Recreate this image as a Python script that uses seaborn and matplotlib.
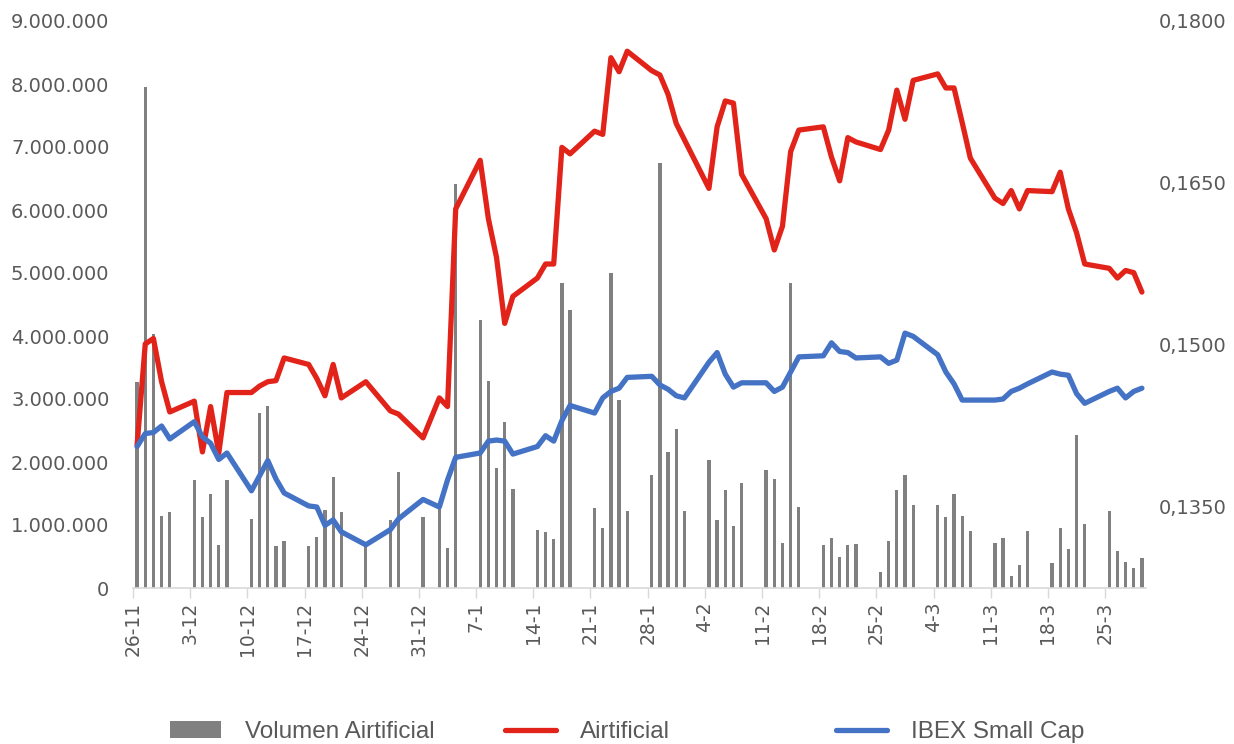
import pandas as pd
import numpy as np
import matplotlib
matplotlib.use("Agg")
import matplotlib.pyplot as plt
import seaborn as sns
from matplotlib.patches import Patch
from matplotlib.lines import Line2D
from matplotlib.ticker import FuncFormatter

# Sesiones (dias habiles) entre 26-11-2018 y 29-03-2019
fechas = [
    "2018-11-26", "2018-11-27", "2018-11-28", "2018-11-29", "2018-11-30",
    "2018-12-03", "2018-12-04", "2018-12-05", "2018-12-06", "2018-12-07",
    "2018-12-10", "2018-12-11", "2018-12-12", "2018-12-13", "2018-12-14",
    "2018-12-17", "2018-12-18", "2018-12-19", "2018-12-20", "2018-12-21",
    "2018-12-24", "2018-12-27", "2018-12-28",
    "2018-12-31", "2019-01-02", "2019-01-03", "2019-01-04",
    "2019-01-07", "2019-01-08", "2019-01-09", "2019-01-10", "2019-01-11",
    "2019-01-14", "2019-01-15", "2019-01-16", "2019-01-17", "2019-01-18",
    "2019-01-21", "2019-01-22", "2019-01-23", "2019-01-24", "2019-01-25",
    "2019-01-28", "2019-01-29", "2019-01-30", "2019-01-31", "2019-02-01",
    "2019-02-04", "2019-02-05", "2019-02-06", "2019-02-07", "2019-02-08",
    "2019-02-11", "2019-02-12", "2019-02-13", "2019-02-14", "2019-02-15",
    "2019-02-18", "2019-02-19", "2019-02-20", "2019-02-21", "2019-02-22",
    "2019-02-25", "2019-02-26", "2019-02-27", "2019-02-28", "2019-03-01",
    "2019-03-04", "2019-03-05", "2019-03-06", "2019-03-07", "2019-03-08",
    "2019-03-11", "2019-03-12", "2019-03-13", "2019-03-14", "2019-03-15",
    "2019-03-18", "2019-03-19", "2019-03-20", "2019-03-21", "2019-03-22",
    "2019-03-25", "2019-03-26", "2019-03-27", "2019-03-28", "2019-03-29",
]

# Volumen en millones de acciones
volumen = [
    3.27, 7.95, 4.03, 1.15, 1.20,
    1.72, 1.13, 1.50, 0.69, 1.71,
    1.09, 2.77, 2.89, 0.66, 0.75,
    0.66, 0.81, 1.24, 1.76, 1.20,
    0.65, 1.08, 1.84,
    1.12, 1.30, 0.64, 6.41,
    4.25, 3.29, 1.90, 2.64, 1.57,
    0.92, 0.89, 0.77, 4.84, 4.42,
    1.27, 0.95, 5.00, 2.99, 1.23,
    1.79, 6.75, 2.16, 2.53, 1.23,
    2.03, 1.08, 1.56, 0.98, 1.67,
    1.88, 1.73, 0.71, 4.84, 1.29,
    0.68, 0.80, 0.50, 0.69, 0.70,
    0.26, 0.75, 1.55, 1.79, 1.31,
    1.31, 1.12, 1.49, 1.15, 0.91,
    0.71, 0.80, 0.19, 0.36, 0.91,
    0.39, 0.95, 0.62, 2.43, 1.01,
    1.23, 0.58, 0.42, 0.31, 0.48,
]

airtificial = [
    0.1407, 0.1501, 0.1506, 0.1466, 0.1438,
    0.1448, 0.1401, 0.1443, 0.1400, 0.1456,
    0.1456, 0.1462, 0.1466, 0.1467, 0.1488,
    0.1482, 0.1469, 0.1453, 0.1482, 0.1451,
    0.1466, 0.1439, 0.1436,
    0.1414, 0.1451, 0.1443, 0.1626,
    0.1671, 0.1617, 0.1581, 0.1520, 0.1545,
    0.1562, 0.1575, 0.1575, 0.1683, 0.1677,
    0.1698, 0.1695, 0.1766, 0.1753, 0.1772,
    0.1754, 0.1750, 0.1732, 0.1705, 0.1690,
    0.1645, 0.1702, 0.1726, 0.1724, 0.1658,
    0.1617, 0.1588, 0.1610, 0.1679, 0.1699,
    0.1702, 0.1674, 0.1652, 0.1692, 0.1688,
    0.1681, 0.1699, 0.1736, 0.1709, 0.1745,
    0.1751, 0.1738, 0.1738, 0.1706, 0.1673,
    0.1636, 0.1631, 0.1643, 0.1626, 0.1643,
    0.1642, 0.1660, 0.1626, 0.1604, 0.1575,
    0.1571, 0.1562, 0.1569, 0.1567, 0.1549,
]

ibex_small_cap = [
    0.1406, 0.1418, 0.1419, 0.1425, 0.1413,
    0.1429, 0.1415, 0.1409, 0.1394, 0.1400,
    0.1365, 0.1379, 0.1393, 0.1376, 0.1363,
    0.1351, 0.1350, 0.1333, 0.1338, 0.1327,
    0.1315, 0.1329, 0.1339,
    0.1357, 0.1350, 0.1375, 0.1396,
    0.1400, 0.1411, 0.1412, 0.1411, 0.1399,
    0.1406, 0.1416, 0.1411, 0.1430, 0.1444,
    0.1437, 0.1451, 0.1457, 0.1460, 0.1470,
    0.1471, 0.1463, 0.1459, 0.1453, 0.1451,
    0.1484, 0.1493, 0.1473, 0.1461, 0.1465,
    0.1465, 0.1457, 0.1461, 0.1475, 0.1489,
    0.1490, 0.1502, 0.1494, 0.1493, 0.1488,
    0.1489, 0.1483, 0.1486, 0.1511, 0.1508,
    0.1491, 0.1475, 0.1464, 0.1449, 0.1449,
    0.1449, 0.1450, 0.1457, 0.1460, 0.1464,
    0.1475, 0.1473, 0.1472, 0.1455, 0.1446,
    0.1457, 0.1460, 0.1451, 0.1457, 0.1460,
]

etiquetas_x = ["26-11", "3-12", "10-12", "17-12", "24-12", "31-12", "7-1", "14-1",
               "21-1", "28-1", "4-2", "11-2", "18-2", "25-2", "4-3", "11-3",
               "18-3", "25-3"]

inicio = pd.Timestamp("2018-11-26")
df = pd.DataFrame({
    "fecha": pd.to_datetime(fechas),
    "volumen": np.array(volumen) * 1e6,
    "airtificial": airtificial,
    "ibex": ibex_small_cap,
})
# eje de fechas tipo Excel: cada dia ocupa una unidad, la barra va en el centro
df["x"] = (df["fecha"] - inicio).dt.days + 0.5

gris = "#808080"
rojo = "#E2231A"
azul = "#4472C4"
texto = "#595959"

sns.set_theme(style="white")
plt.rcParams["font.family"] = ["DejaVu Sans"]

fig = plt.figure(figsize=(12.34, 7.44), dpi=100)
ax = fig.add_axes([133 / 1234, 156 / 744, (1146 - 133) / 1234, (588 - 21) / 744])

sns.barplot(data=df, x="x", y="volumen", native_scale=True, width=0.4,
            color=gris, saturation=1, linewidth=0, ax=ax)

ax2 = ax.twinx()
sns.lineplot(data=df, x="x", y="airtificial", color=rojo, linewidth=3.8,
             errorbar=None, ax=ax2, solid_capstyle="round", solid_joinstyle="round")
sns.lineplot(data=df, x="x", y="ibex", color=azul, linewidth=3.8,
             errorbar=None, ax=ax2, solid_capstyle="round", solid_joinstyle="round")

# eje principal (volumen)
ax.set_xlim(0, 124)
ax.set_ylim(0, 9e6)
ax.set_yticks(np.arange(0, 9e6 + 1, 1e6))
ax.yaxis.set_major_formatter(FuncFormatter(lambda v, p: f"{int(round(v)):,}".replace(",", ".")))
ax.set_xticks(np.arange(0, 124, 7))
ax.set_xticklabels(etiquetas_x, rotation=90)
ax.set_xlabel("")
ax.set_ylabel("")
ax.tick_params(axis="x", length=7, width=1, color="#D9D9D9", labelsize=13.5,
               labelcolor=texto, pad=3, bottom=True)
ax.tick_params(axis="y", length=0, labelsize=14, labelcolor=texto, pad=17)
for s in ["top", "left", "right"]:
    ax.spines[s].set_visible(False)
ax.spines["bottom"].set_color("#D9D9D9")
ax.spines["bottom"].set_linewidth(1.2)

# eje secundario (cotizaciones)
ax2.set_ylim(0.1275, 0.18)
ax2.set_yticks([0.135, 0.15, 0.165, 0.18])
ax2.yaxis.set_major_formatter(FuncFormatter(lambda v, p: f"{v:.4f}".replace(".", ",")))
ax2.set_ylabel("")
ax2.set_xlabel("")
ax2.tick_params(axis="y", length=0, labelsize=14, labelcolor=texto, pad=9)
for s in ax2.spines.values():
    s.set_visible(False)
ax2.grid(False)
ax.grid(False)

# leyenda inferior
leg_kw = dict(frameon=False, loc="center left", borderaxespad=0, borderpad=0,
              handletextpad=1.0, handlelength=2.1,
              prop={"family": "Liberation Sans", "size": 17.5}, labelcolor=texto)
elementos = [
    (Patch(facecolor=gris, edgecolor="none"), "Volumen Airtificial", 170),
    (Line2D([], [], color=rojo, lw=3.8, solid_capstyle="round"), "Airtificial", 505),
    (Line2D([], [], color=azul, lw=3.8, solid_capstyle="round"), "IBEX Small Cap", 836),
]
for h, lab, xpx in elementos:
    fig.legend([h], [lab], bbox_to_anchor=(xpx / 1234, 12 / 744), **leg_kw)

fig.savefig("out.png", dpi=100)
